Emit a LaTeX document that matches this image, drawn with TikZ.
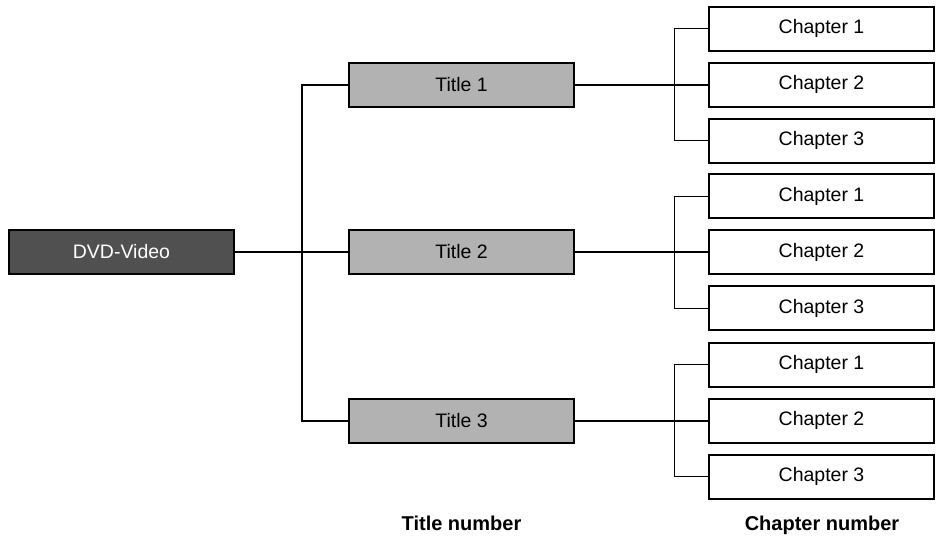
\documentclass[tikz,border=0pt]{standalone}
\usepackage{fontspec}
\setmainfont{Liberation Sans}
\usepackage{xcolor}
\usetikzlibrary{positioning}
\definecolor{rootgray}{HTML}{505050}
\definecolor{titlegray}{HTML}{B2B2B2}

\begin{document}
\begin{tikzpicture}[
        x=1pt, y=-1pt,
        node distance=10pt and 133pt,
        font=\fontsize{19.5}{22}\selectfont,
        box/.style={rectangle, draw, line width=2pt, text centered, inner sep=0pt, minimum height=44pt, minimum width=225pt},
        root/.style={box, fill=rootgray, text=white},
        titlebox/.style={box, fill=titlegray},
        chapter/.style={box, fill=white},
        caption/.style={font=\fontsize{20}{22}\selectfont\bfseries, anchor=base},
        bus/.style={line width=2pt},
        feed/.style={line width=1pt}
    ]
        \useasboundingbox (0,0) rectangle (939,536);
        % Nodes
        \node (dvd) [root] at (121.5,252) {DVD-Video};
        \node (t1) [titlebox] at (461.5,84.5) {Title 1};
        \node (t2) [titlebox] at (461.5,252) {Title 2};
        \node (t3) [titlebox] at (461.5,420.5) {Title 3};

        \foreach \t in {1,2,3} {
            \node (c\t-2) [chapter, right=133pt of t\t] {Chapter 2};
            \node (c\t-1) [chapter, above=of c\t-2] {Chapter 1};
            \node (c\t-3) [chapter, below=of c\t-2] {Chapter 3};
        }

        \node (tnum) [caption] at (461.5,530) {Title number};
        \node (cnum) [caption] at (822,530) {Chapter number};

        \coordinate (hub) at (302,0);
        \coordinate (cbus) at (674,0);

        % Lines
        \draw [bus] (dvd) -- (t2);
        \draw [bus] (t1.west) -- (t1.west -| hub) |- (t3.west);

        \foreach \t in {1,2,3} {
            \draw [bus] (t\t) -- (c\t-2);
            \draw [feed] (c\t-1.west) -- (c\t-1.west -| cbus) |- (c\t-3.west);
        }
    \end{tikzpicture}
\end{document}
